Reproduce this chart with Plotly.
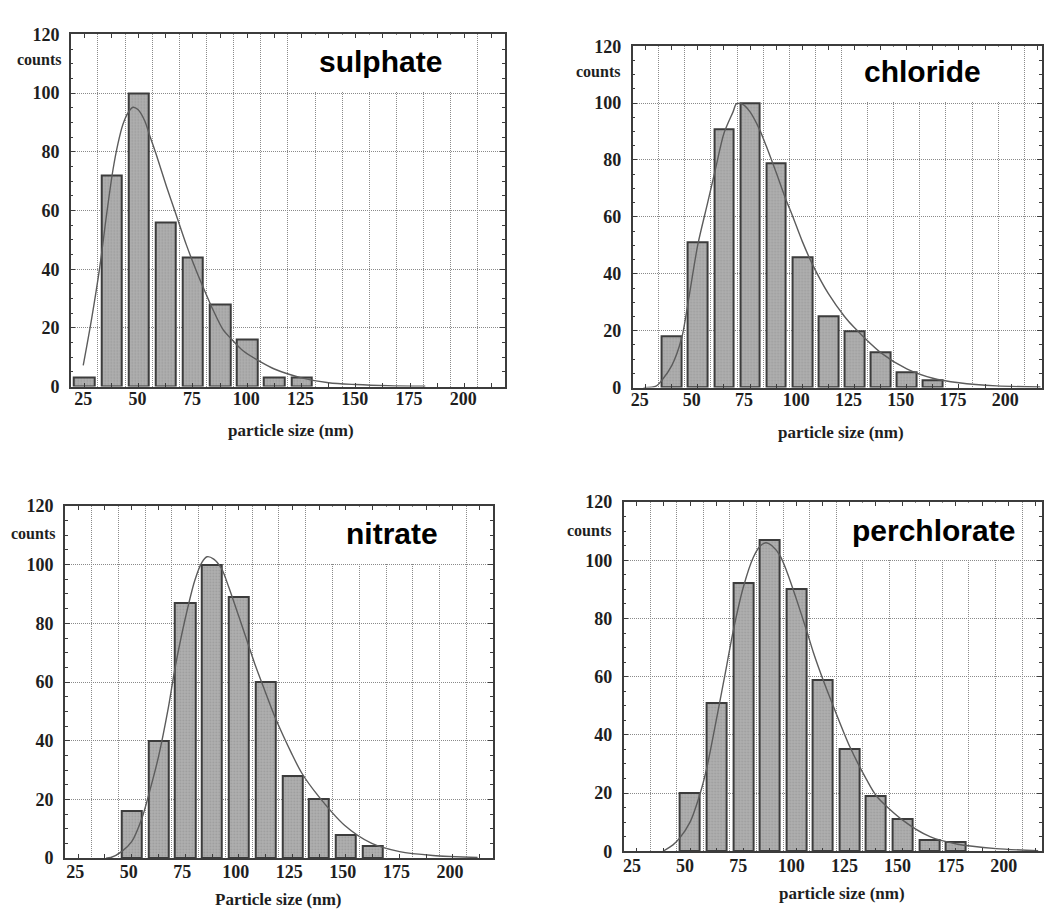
import numpy as np
import plotly.graph_objects as go

# ---- histogram data: bin centres (nm) and counts per salt ----
sulphate_bins = [25, 37.5, 50, 62.5, 75, 87.5, 100, 112.5, 125]
sulphate_counts = [3, 72, 100, 56, 44, 28, 16, 3, 3]

chloride_bins = [37.5, 50, 62.5, 75, 87.5, 100, 112.5, 125, 137.5, 150, 162.5]
chloride_counts = [18, 51, 91, 100, 79, 46, 25, 20, 12.5, 5.5, 2.5]

nitrate_bins = [50, 62.5, 75, 87.5, 100, 112.5, 125, 137.5, 150, 162.5]
nitrate_counts = [16, 40, 87, 100, 89, 60, 28, 20, 8, 4]

perchlorate_bins = [50, 62.5, 75, 87.5, 100, 112.5, 125, 137.5, 150, 162.5, 175]
perchlorate_counts = [20, 51, 92, 107, 90, 59, 35, 19, 11, 4, 3]

# ---- fitted size-distribution curves (sampled points) ----
sulphate_fit_x = [24.5, 28.3, 32.1, 35.2, 38.2, 40.5, 42.8, 45.1, 47.4, 49.7, 52.8, 55.1,
                  58.2, 62.8, 67.4, 72, 76.6, 79.7, 84.3, 88.9, 93.5, 98.1, 106, 112.5,
                  125, 137.5, 150, 165, 182]
sulphate_fit_y = [7.2, 22.8, 40.6, 58.3, 73.9, 82.8, 89.4, 93.3, 95.2, 94.4, 90.6, 85.6,
                  78.9, 68.3, 58.3, 48.3, 39.4, 33.9, 26.1, 19.4, 15.6, 12.2, 8.5, 6,
                  3, 1.3, 0.7, 0.3, 0.1]

chloride_fit_x = [24, 30, 32.7, 37.5, 42.3, 45.5, 50, 54.7, 58.8, 62.5, 66.9, 68.5, 71.7,
                  75, 79.6, 82.8, 87.5, 92, 95.2, 100, 104.8, 112.5, 120.2, 125, 137.5,
                  150, 162.5, 175, 193, 214]
chloride_fit_y = [0, 0.5, 2.5, 7.7, 17.5, 30.7, 50.3, 65, 78, 89.4, 97, 99.8, 99.5,
                  96.9, 90.6, 84.8, 75.6, 66.4, 60.6, 51.4, 43.4, 33, 25, 21, 12.3,
                  6.6, 3.3, 1.7, 0.6, 0.2]

nitrate_fit_x = [38, 40.3, 45.3, 50, 54.7, 57.8, 62.5, 67.1, 70.2, 74.9, 79.5, 82.8, 85.2,
                 88.3, 92, 95.3, 100, 104.6, 107.7, 112.3, 117, 124.7, 129.4, 137.1,
                 149.5, 162.1, 175.1, 190.6, 211.5]
nitrate_fit_y = [0, 0.2, 2.2, 5.6, 13.4, 21.2, 34.5, 51.2, 64.6, 81.3, 94.7, 100.8, 102.7,
                 101.9, 98.6, 92.4, 82.4, 72.4, 65.7, 56.8, 47.9, 35.6, 29, 21.2,
                 11.1, 5, 2.2, 0.9, 0.2]

perchlorate_fit_x = [37.3, 42, 45.1, 50, 54.9, 58, 62.6, 67.3, 70.4, 75.1, 79.8, 82.9, 85.7,
                     88.8, 92.4, 95.4, 100.2, 105.2, 108, 112.9, 117.7, 125.2, 133, 137.7,
                     150.2, 162.9, 175.4, 194, 213.8]
perchlorate_fit_y = [0, 2.2, 4.5, 10, 20.2, 29, 46, 64, 76, 90.8, 101, 104.8, 106,
                     104.8, 101.5, 96.4, 86.3, 75, 68.4, 58.3, 49.3, 35.9, 24.7, 19,
                     10.6, 5, 2.5, 0.9, 0.2]

# ---- axis tick labels ----
x_tick_values = [25, 50, 75, 100, 125, 150, 175, 200]
x_tick_labels = ["25", "50", "75", "100", "125", "150", "175", "200"]
y_tick_values = [0, 20, 40, 60, 80, 100, 120]
y_tick_labels = ["0", "20", "40", "60", "80", "100", "120"]

W, H = 1044, 918
BIN = 12.5
X0 = 18.75

panels = [
    dict(name="sulphate", bins=sulphate_bins, counts=sulphate_counts,
         fx=sulphate_fit_x, fy=sulphate_fit_y, xtitle="particle size (nm)",
         box=(69, 505, 25, 385), xmax=218.75, shift=-1, standoff=-5,
         box_x=(119.2, 205.8), label_xy=(161.5, 110.8),
         counts_px=(37, 51), title_px=(290, 430)),
    dict(name="chloride", bins=chloride_bins, counts=chloride_counts,
         fx=chloride_fit_x, fy=chloride_fit_y, xtitle="particle size (nm)",
         box=(633, 1044, 37, 386), xmax=214.75, shift=-6, standoff=-5,
         box_x=(119.2, 205.8), label_xy=(157.5, 111.2),
         counts_px=(598, 63), title_px=(842, 432)),
    dict(name="nitrate", bins=nitrate_bins, counts=nitrate_counts,
         fx=nitrate_fit_x, fy=nitrate_fit_y, xtitle="Particle size (nm)",
         box=(63, 493, 507, 867), xmax=218.75, shift=-3, standoff=-3,
         box_x=(131.7, 205.8), label_xy=(171.5, 110.6),
         counts_px=(31, 535), title_px=(278, 909)),
    dict(name="perchlorate", bins=perchlorate_bins, counts=perchlorate_counts,
         fx=perchlorate_fit_x, fy=perchlorate_fit_y, xtitle="particle size (nm)",
         box=(624, 1044, 503, 860), xmax=215.6, shift=-5, standoff=-3,
         box_x=(119.2, 205.8), label_xy=(164.5, 110.3),
         counts_px=(589, 532), title_px=(843, 903)),
]

SERIF = "Liberation Serif"
SANS = "Liberation Sans"
GRID = "#8a8a8a"
GRID_DASH = "1px,1px"
FRAME = "#3c3c3c"
TEXT = "#1e1e1e"

fig = go.Figure()
layout = dict(width=W, height=H, margin=dict(l=0, r=0, t=0, b=0),
              paper_bgcolor="white", plot_bgcolor="white", showlegend=False)
shapes, annotations = [], []

# every bin centre gets an inside tick; only multiples of 25 are labelled
centres = list(np.arange(BIN, 218.75, BIN))
label_map = dict(zip(x_tick_values, x_tick_labels))
centre_text = [label_map.get(c, "") for c in centres]

for i, p in enumerate(panels, start=1):
    xa = "x" if i == 1 else f"x{i}"
    ya = "y" if i == 1 else f"y{i}"
    l, r, t, b = p["box"]

    fig.add_trace(go.Bar(
        x=p["bins"], y=p["counts"], width=9.4, xaxis=xa, yaxis=ya,
        marker=dict(color="#b0b0b0", line=dict(color=FRAME, width=2),
                    pattern=dict(shape=".", fgcolor="#858585", size=3,
                                 solidity=0.3, fillmode="overlay")),
    ))
    fig.add_trace(go.Scatter(
        x=p["fx"], y=p["fy"], mode="lines", xaxis=xa, yaxis=ya,
        line=dict(color="#5c5c5c", width=1.4, shape="spline", smoothing=0.8),
    ))

    layout[f"xaxis{'' if i == 1 else i}"] = dict(
        domain=[l / W, r / W], anchor=ya, range=[X0, p["xmax"]],
        tickmode="array", tickvals=centres, ticktext=centre_text,
        ticks="inside", ticklen=4, tickcolor=FRAME, showgrid=False,
        showline=True, linecolor=FRAME, linewidth=1.5, mirror="ticks",
        zeroline=False, ticklabelstandoff=p["standoff"], ticklabelshift=p["shift"],
        tickfont=dict(family=SERIF, size=18, color=TEXT, weight="bold"),
        minor=dict(tick0=X0 - BIN, dtick=BIN, showgrid=True, gridcolor=GRID,
                   griddash=GRID_DASH, gridwidth=1, ticks=""),
    )
    layout[f"yaxis{'' if i == 1 else i}"] = dict(
        domain=[1 - b / H, 1 - t / H], anchor=xa, range=[0, 120],
        tickmode="array", tickvals=y_tick_values, ticktext=y_tick_labels,
        ticks="inside", ticklen=5, tickcolor=FRAME,
        showgrid=True, gridcolor=GRID, griddash=GRID_DASH, gridwidth=1,
        showline=True, linecolor=FRAME, linewidth=1.5, mirror="ticks",
        zeroline=False, ticklabelstandoff=6,
        tickfont=dict(family=SERIF, size=18, color=TEXT, weight="bold"),
        minor=dict(dtick=5, ticks="inside", ticklen=3, tickcolor=FRAME, showgrid=False),
    )

    # white label panel over the upper part of the grid
    shapes.append(dict(type="rect", xref=xa, yref=ya, layer="between",
                       x0=p["box_x"][0], x1=p["box_x"][1], y0=100.4, y1=119.6,
                       fillcolor="white", line=dict(width=0)))
    annotations.append(dict(text=p["name"], xref=xa, yref=ya,
                            x=p["label_xy"][0], y=p["label_xy"][1], showarrow=False,
                            xanchor="center", yanchor="middle",
                            font=dict(family=SANS, size=30, color="black", weight="bold")))
    annotations.append(dict(text="counts", xref="paper", yref="paper",
                            x=p["counts_px"][0] / W, y=1 - p["counts_px"][1] / H,
                            showarrow=False, xanchor="center", yanchor="middle",
                            font=dict(family=SERIF, size=16, color=TEXT, weight="bold")))
    annotations.append(dict(text=p["xtitle"], xref="paper", yref="paper",
                            x=p["title_px"][0] / W, y=1 - p["title_px"][1] / H,
                            showarrow=False, xanchor="center", yanchor="middle",
                            font=dict(family=SERIF, size=17, color=TEXT, weight="bold")))

layout["shapes"] = shapes
layout["annotations"] = annotations
layout["bargap"] = 0
fig.update_layout(**layout)
fig.write_html("out.html")
